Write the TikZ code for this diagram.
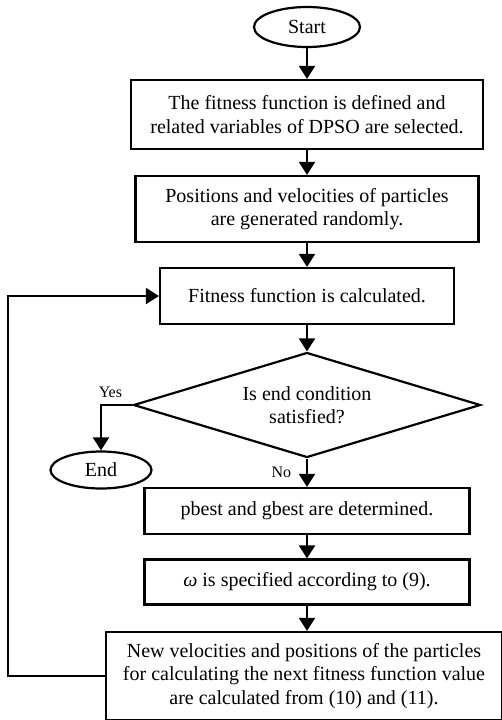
\documentclass[tikz,border=0pt]{standalone}
\usepackage{fontspec}
\setmainfont{Liberation Serif}
\usepackage{tikz}
\usetikzlibrary{shapes.geometric}
\usetikzlibrary{arrows.meta}
\newcommand{\midx}{307}
\tikzset{
    common/.style={draw, line width=1.1pt, align=center, font=\fontsize{10}{11.8}\selectfont},
    stepbox/.style={common, rectangle},
    terminal/.style={common, ellipse, inner sep=1pt},
    decision/.style={common, diamond, shape aspect=3.3, inner sep=1pt},
    flow/.style={line width=1.1pt, -{Triangle[length=6.5pt, width=8pt]}},
    answer/.style={font=\fontsize{8}{9}\selectfont}
}
\begin{document}
\begin{tikzpicture}[x=0.5pt, y=-0.5pt]
    \useasboundingbox (0,0) rectangle (502,720);
    \node[terminal, minimum width=53pt, minimum height=20pt] (start) at (\midx,27) {Start};
    \node[stepbox, minimum width=176pt, minimum height=34.5pt] (define) at (\midx,114.5) {The fitness function is defined and\\related variables of DPSO are selected.};
    \node[stepbox, minimum width=171.5pt, minimum height=33pt] (init) at (\midx,209) {Positions and velocities of particles\\are generated randomly.};
    \node[stepbox, minimum width=147pt, minimum height=28pt] (fit) at (\midx,296) {Fitness function is calculated.};
    \node[decision, minimum width=173.5pt, minimum height=52.5pt] (cond) at (\midx,405) {Is end condition\\satisfied?};
    \node[terminal, minimum width=50.5pt, minimum height=18.5pt] (stop) at (101,470) {End};
    \node[stepbox, minimum width=162.5pt, minimum height=23pt] (best) at (\midx,511) {pbest and gbest are determined.};
    \node[stepbox, minimum width=162.5pt, minimum height=22.5pt] (omega) at (\midx,582) {\textit{ω} is specified according to (9).};
    \node[stepbox, minimum width=198pt, minimum height=44pt] (update) at (304,676) {New velocities and positions of the particles\\for calculating the next fitness function value\\are calculated from (10) and (11).};
    \coordinate (back) at (8,296);

    \draw[flow] (start) -- (define);
    \draw[flow] (define) -- (init);
    \draw[flow] (init) -- (fit);
    \draw[flow] (fit) -- (cond);
    \draw[flow] (cond.west) -| node[answer, pos=0.35, above] {Yes} (stop.north);
    \draw[flow] (cond.south) -- node[answer, left, xshift=-4pt] {No} (best);
    \draw[flow] (best) -- (omega);
    \draw[flow] (omega.south) -- (omega.south |- update.north);
    \draw[flow] (update.west) -| (back) -- (fit.west);
\end{tikzpicture}
\end{document}
